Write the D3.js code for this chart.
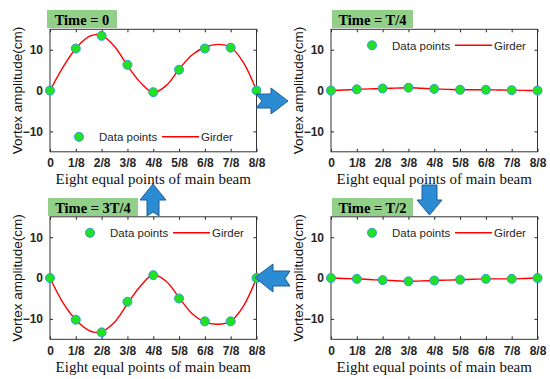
<!DOCTYPE html>
<html>
<head>
<meta charset="utf-8">
<script src="https://cdn.jsdelivr.net/npm/d3@7/dist/d3.min.js"></script>
<style>
  body { margin: 0; background: #fff; }
  svg { display: block; }
  .tick text { font-family: "Liberation Sans", Arial, sans-serif; font-size: 12px; font-weight: bold; fill: #262626; }
  .legend { font-family: "Liberation Sans", Arial, sans-serif; font-size: 11.5px; fill: #262626; }
  .ylab { font-family: "Liberation Sans", Arial, sans-serif; font-size: 13.5px; fill: #111; }
  .xlab { font-family: "Liberation Serif", "Times New Roman", serif; font-size: 15px; fill: #111; }
  .title { font-family: "Liberation Serif", "Times New Roman", serif; font-size: 14.5px; font-weight: bold; fill: #000; }
</style>
</head>
<body>
<script>

// eight equal points along the beam
const xTicks = ["0", "1/8", "2/8", "3/8", "4/8", "5/8", "6/8", "7/8", "8/8"];
const yTicks = [-10, 0, 10];
const pointX = [0, 1, 2, 3, 4, 5, 6, 7, 8];

// measured data points (cm)
const points0   = [0, 10.3, 13.4, 6.3, -0.4, 5.1, 10.3, 10.5, 0];
const pointsT4  = [0, 0.3, 0.5, 0.7, 0.4, 0.2, 0.2, 0.1, 0];
const pointsT2  = [0, -0.2, -0.5, -0.8, -0.6, -0.4, -0.2, -0.2, 0];
const points3T4 = [0, -10.2, -13.3, -5.8, 0.7, -5.0, -10.6, -10.6, 0];

// girder curve read at half steps
const girderX    = [0, 0.5, 1, 1.5, 1.75, 2, 2.5, 3, 3.5, 4, 4.5, 5, 5.5, 6, 6.5, 7, 7.5, 8];
const girder0    = [0, 5.7, 10.3, 13.2, 13.7, 13.5, 10.8, 6.1, 2.0, -0.5, 1.2, 5.2, 8.7, 10.6, 11.3, 10.6, 6.8, 0];
const girder3T4  = [0, -6.0, -10.2, -12.8, -13.3, -13.1, -10.8, -6.3, -2.0, 0.8, -0.8, -4.8, -8.7, -10.8, -11.3, -10.6, -6.8, 0];
const girderT4   = [0, 0.15, 0.3, 0.4, 0.45, 0.5, 0.6, 0.7, 0.55, 0.4, 0.3, 0.2, 0.2, 0.2, 0.15, 0.1, 0.05, 0];
const girderT2   = [0, -0.1, -0.2, -0.35, -0.45, -0.5, -0.65, -0.8, -0.7, -0.6, -0.5, -0.4, -0.3, -0.2, -0.2, -0.2, -0.1, 0];

const titles = ["Time = 0", "Time = T/4", "Time = T/2", "Time = 3T/4"];

const W = 550, H = 379;
const pw = 206.5, ph = 122.5;

const panels = [
  {title: titles[0], pts: points0, gir: girder0, left: 50, top: 29.3, box: [47, 10, 70], leg: {x: 29, y: ph - 15}},
  {title: titles[1], pts: pointsT4, gir: girderT4, left: 331, top: 29.3, box: [332, 10, 81], leg: {x: 41, y: 16}},
  {title: titles[2], pts: pointsT2, gir: girderT2, left: 331, top: 216.8, box: [332, 198, 81], leg: {x: 41, y: 16}},
  {title: titles[3], pts: points3T4, gir: girder3T4, left: 50, top: 216.8, box: [48, 198, 90], leg: {x: 40, y: 16}}
];

const svg = d3.select("body")
  .append("svg")
  .attr("width", W)
  .attr("height", H);

const x = d3.scaleLinear().domain([0, 8]).range([0, pw]);
const y = d3.scaleLinear().domain([-15, 15]).range([ph, 0]);

const line = d3.line()
  .x(d => x(d[0]))
  .y(d => y(d[1]))
  .curve(d3.curveCatmullRom);

panels.forEach(p => {
  const g = svg.append("g").attr("transform", `translate(${p.left},${p.top})`);

  // axes with inward ticks
  const xAxis = d3.axisBottom(x).tickValues(pointX).tickFormat(i => xTicks[i]).tickSizeInner(-3).tickSizeOuter(0).tickPadding(7);
  const yAxis = d3.axisLeft(y).tickValues(yTicks).tickSizeInner(-3).tickSizeOuter(0).tickPadding(7);

  g.append("g").attr("transform", `translate(0,${ph})`).call(xAxis);
  g.append("g").call(yAxis);
  g.append("g").call(d3.axisTop(x).tickValues(pointX).tickFormat("").tickSizeInner(-3).tickSizeOuter(0));
  g.append("g").attr("transform", `translate(${pw},0)`).call(d3.axisRight(y).tickValues(yTicks).tickFormat("").tickSizeInner(-3).tickSizeOuter(0));
  g.selectAll(".domain").remove();
  g.selectAll(".tick line").attr("stroke", "#262626");

  g.append("rect")
    .attr("width", pw)
    .attr("height", ph)
    .attr("fill", "none")
    .attr("stroke", "#333")
    .attr("stroke-width", 1);

  g.append("path")
    .datum(girderX.map((v, i) => [v, p.gir[i]]))
    .attr("fill", "none")
    .attr("stroke", "#ff0000")
    .attr("stroke-width", 1.4)
    .attr("d", line);

  g.selectAll("circle.pt")
    .data(pointX.map((v, i) => [v, p.pts[i]]))
    .enter().append("circle")
    .attr("class", "pt")
    .attr("cx", d => x(d[0]))
    .attr("cy", d => y(d[1]))
    .attr("r", 4.5)
    .attr("fill", "#22e022")
    .attr("stroke", "#2e9fd6")
    .attr("stroke-width", 1);

  // legend
  const lg = g.append("g").attr("transform", `translate(${p.leg.x},${p.leg.y})`);
  lg.append("circle").attr("r", 4.5).attr("fill", "#22e022").attr("stroke", "#2e9fd6");
  lg.append("text").attr("class", "legend").attr("x", 20).attr("y", 4.5).text("Data points");
  lg.append("line").attr("x1", 83).attr("x2", 120).attr("stroke", "#ff0000").attr("stroke-width", 1.4);
  lg.append("text").attr("class", "legend").attr("x", 122).attr("y", 4.5).text("Girder");

  // axis labels
  g.append("text")
    .attr("class", "ylab")
    .attr("text-anchor", "middle")
    .attr("transform", `translate(-28,${ph / 2}) rotate(-90)`)
    .text("Vortex amplitude(cm)");

  g.append("text")
    .attr("class", "xlab")
    .attr("text-anchor", "middle")
    .attr("x", pw / 2)
    .attr("y", ph + 32.5)
    .text("Eight equal points of main beam");

  // title badge
  svg.append("rect")
    .attr("x", p.box[0]).attr("y", p.box[1])
    .attr("width", p.box[2]).attr("height", 18)
    .attr("fill", "#92d08a");
  svg.append("text")
    .attr("class", "title")
    .attr("text-anchor", "middle")
    .attr("x", p.box[0] + p.box[2] / 2)
    .attr("y", p.box[1] + 14.5)
    .text(p.title);
});

// blue flow arrows between panels
const arrows = [
  "M256,94 L271,94 L271,88 L288,101 L271,114 L271,108 L256,108 L262,101 Z",
  "M290,271 L273,271 L273,264 L255,277.5 L273,292 L273,286 L290,286 L285,278.5 Z",
  "M422,185 L437,185 L437,200 L442,200 L429.5,215 L417,200 L422,200 Z",
  "M147,216 L147,200 L140,200 L153,184 L166,200 L159,200 L159,216 L153,212 Z"
];
svg.selectAll("path.arrow")
  .data(arrows)
  .enter().append("path")
  .attr("class", "arrow")
  .attr("d", d => d)
  .attr("fill", "#2b8cd4")
  .attr("stroke", "#1d5e98")
  .attr("stroke-width", 1);

</script>
</body>
</html>
